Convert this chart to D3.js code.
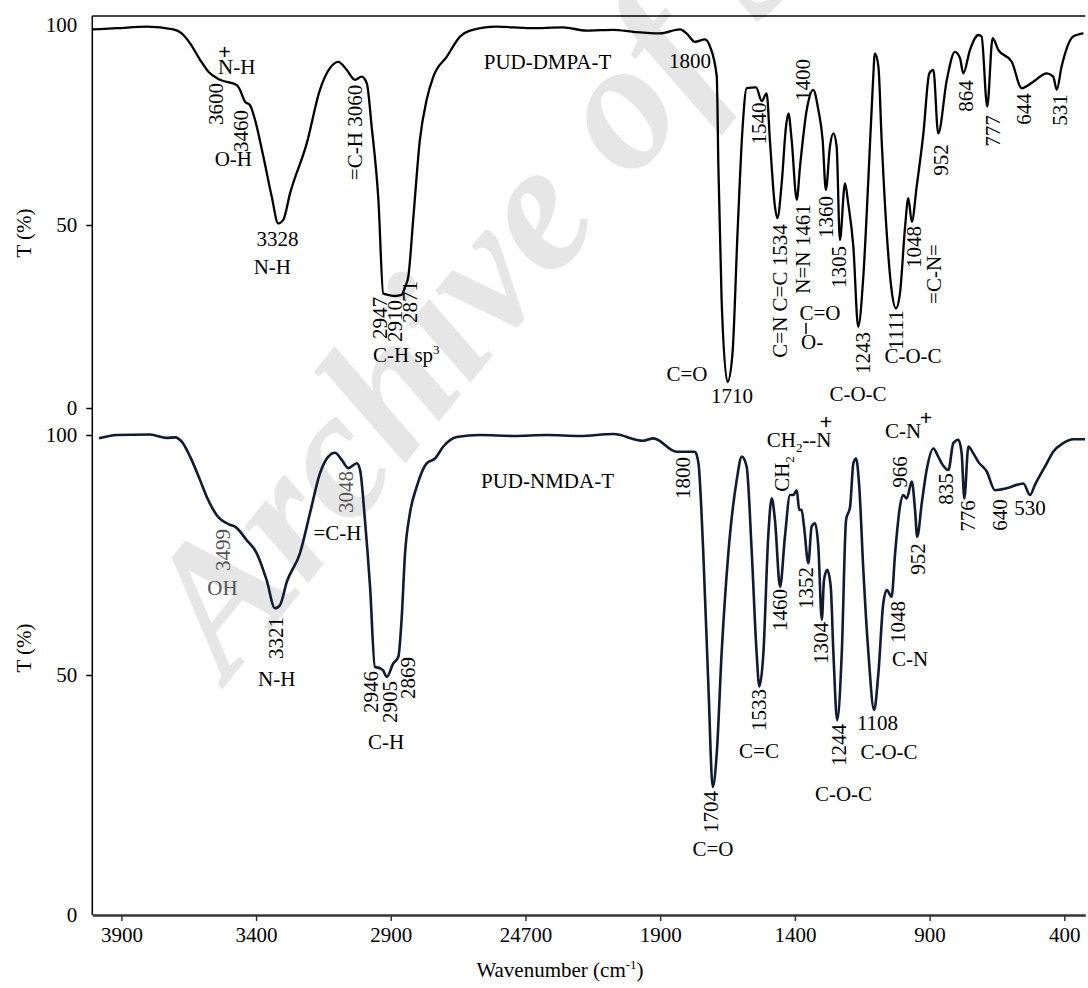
<!DOCTYPE html>
<html>
<head>
<meta charset="utf-8">
<script src="https://cdn.jsdelivr.net/npm/d3@7"></script>
<style>
  body { margin: 0; background: #fff; }
  svg text { font-family: "Liberation Serif", "Times New Roman", serif; }
</style>
</head>
<body>
<div id="chart"></div>
<script>
// x axis ticks (label "24700" is as printed in the figure)
const xTicks = [3900, 3400, 2900, 2400, 1900, 1400, 900, 400];
const xTickLabels = ['3900', '3400', '2900', '24700', '1900', '1400', '900', '400'];
const yTicks = [0, 50, 100];

// PUD-DMPA-T spectrum (wavenumber, transmittance %)
const topWave = [4008,3917,3806,3707,3676,3645,3608,3577,3534,3472,3460,3441,3423,3404,3373,3342,3318,3299,3274,3212,3163,3126,3095,3064,3033,3008,2989,2971,2946,2928,2909,2884,2860,2847,2835,2816,2792,2767,2742,2692,2643,2606,2507,2383,2260,2173,2074,2000,1901,1826,1802,1771,1734,1715,1690,1684,1672,1650,1632,1613,1594,1579,1544,1523,1505,1492,1474,1465,1449,1433,1424,1412,1393,1381,1356,1332,1313,1297,1285,1270,1257,1245,1233,1214,1202,1183,1165,1146,1128,1111,1103,1090,1078,1059,1041,1025,1010,991,979,966,948,923,901,886,868,836,806,787,775,750,719,707,686,666,645,595,558,515,465,441,428,410,367,329];
const topT = [98.9,99.2,99.6,98.9,97.9,95.4,91.3,88.3,86.3,85,83.8,80.8,80,76.3,67.1,57.1,50.4,51.3,57.9,70.4,83.8,89.2,90.8,88.8,86.3,87.1,85.4,74.6,56.3,31.3,30.9,30.6,30.9,33.1,35.9,52.1,71.3,81.3,87.1,92.1,97.1,98.6,99.6,99.2,99.4,98.6,98.8,98.3,97.9,98.9,97.9,95.8,96.4,94.6,87.1,64.6,29.5,7.1,14.5,47.7,74.5,84.2,84.4,81,82.9,70.4,54.6,51.7,60.4,74.6,77.9,71.3,56.3,64.6,78.8,83.8,78.8,71.3,58.8,69.6,72.9,69.6,45.9,60.4,55.4,44.1,22.2,35.9,60.4,84.6,92.9,89.6,71.3,47.7,32.2,27.2,31.3,49.5,56.7,50.8,59.6,72.9,87.9,88.8,72.9,86.3,93.3,91.7,87.9,93.8,97.5,97.1,79.6,96.7,93.8,90.8,84.2,85.8,87.9,87.1,83.8,89.6,97.1,97.9];

// PUD-NMDA-T spectrum
const botWave = [3983,3917,3794,3732,3701,3676,3645,3608,3583,3546,3497,3478,3435,3398,3361,3330,3311,3286,3237,3200,3163,3132,3107,3082,3058,3026,3014,2996,2977,2959,2940,2929,2915,2891,2872,2860,2847,2829,2804,2767,2736,2705,2655,2569,2445,2321,2198,2074,1963,1925,1839,1771,1758,1740,1721,1705,1690,1672,1647,1616,1597,1579,1560,1542,1532,1517,1499,1486,1474,1455,1437,1418,1406,1393,1384,1375,1366,1350,1338,1325,1313,1300,1292,1280,1267,1257,1243,1226,1210,1195,1183,1173,1161,1146,1127,1106,1090,1072,1059,1041,1028,1010,998,985,966,954,946,929,911,886,868,855,830,812,793,781,771,756,738,719,688,657,614,552,527,509,465,441,404,366,323];
const botT = [99.3,100,100.1,99.4,99.5,98.6,95.5,90.6,87.1,83.3,81.3,80.9,78.1,75.4,69.8,63.9,64.6,69.4,75.4,83.7,92,95.5,96.3,94.8,93.1,94.1,92.7,82.3,68.4,51.7,51.4,51,49.6,52.4,53.8,61.5,75.4,83.7,89.2,94.1,95.1,97.6,99.6,100,99.8,100,99.8,100.2,98.8,99.3,96.5,96.5,94.1,75.4,47.6,26.7,33.7,54.5,75.4,90.6,95.5,93.4,75.4,54.5,47.6,54.5,78.8,86.8,82.3,68.4,78.8,87.5,87.5,88.5,84.4,84.4,80.9,73.3,80.9,81.6,76.7,61.5,69.8,71.9,68.4,54.5,40.6,54.5,82.3,85.1,94.1,95.1,89.2,71.9,54.5,42.7,50.4,64.9,67.7,66.3,75.4,85.1,87.5,86.8,90.3,84.4,78.8,85.8,92.7,97.2,95.5,94.1,92.7,98.3,99,96.2,86.8,97.6,96.2,94.4,92.4,88.5,88.9,89.9,87.5,89.6,94.1,96.5,98.3,99.1,99.1];

// peak annotations (page layout: rotated ones are centred, flat ones use baseline)
const notes = [
  ['N-H', 236.7, 74, 0], ['3600', 215.8, 104, -90], ['3460', 240.8, 131, -90], ['O-H', 233.3, 166, 0],
  ['3328', 277.5, 246, 0], ['N-H', 272.3, 274, 0], ['=C-H 3060', 355, 132.5, -90],
  ['2947', 380, 318, -90], ['2910', 394.5, 321, -90], ['2871', 409.5, 302, -90],
  ['PUD-DMPA-T', 547.5, 69, 0], ['1800', 690, 68, 0], ['1540', 759, 123.5, -90],
  ['C=O', 687, 381, 0], ['1710', 732, 403, 0], ['C=N C=C 1534', 780, 291, -90],
  ['N=N 1461', 802.5, 249, -90], ['1400', 802.5, 80, -90], ['C=O', 820, 320, 0],
  ['1360', 826, 217, -90], ['1305', 839, 267, -90], ['1243', 862.5, 353, -90],
  ['C-O-C', 858, 401, 0], ['1111', 896, 330, -90], ['C-O-C', 913, 363, 0],
  ['1048', 914, 247, -90], ['=C-N=', 934, 274, -90], ['952', 941, 160, -90],
  ['864', 966, 96, -90], ['777', 992.5, 131, -90], ['644', 1024, 109, -90], ['531', 1060, 110, -90],
  ['3321', 276, 638, -90], ['N-H', 276.7, 686, 0], ['=C-H', 337.5, 540, 0],
  ['2946', 370.5, 692, -90], ['2905', 390, 702, -90], ['2869', 407.5, 678, -90], ['C-H', 386, 749, 0],
  ['PUD-NMDA-T', 547.5, 488, 0], ['1800', 682.5, 478, -90],
  ['1460', 780, 610, -90], ['1352', 806, 588, -90], ['1304', 821, 643, -90],
  ['1533', 759, 710, -90], ['C=C', 759, 758, 0], ['1244', 839, 745, -90],
  ['1108', 877.5, 730, 0], ['C-O-C', 889, 759, 0], ['C-O-C', 843.5, 801, 0],
  ['1704', 711, 812, -90], ['C=O', 713, 856, 0], ['1048', 897.5, 622, -90], ['C-N', 910, 666, 0],
  ['966', 900, 472, -90], ['952', 917.5, 559, -90], ['835', 946, 489, -90],
  ['776', 967.5, 516, -90], ['640', 999.5, 515, -90], ['530', 1030, 515, 0]
];
const greyNotes = [['3499', 222.5, 550, -90], ['OH', 222.5, 595, 0], ['3048', 346, 492, -90]];
const plusSigns = [[224.5, 59], [826, 429], [926, 425]];

const W = 1088, H = 988;
const svg = d3.select('#chart').append('svg').attr('width', W).attr('height', H);

const x = d3.scaleLinear().domain([4008, 322]).range([92.3, 1085.3]);
const yTop = d3.scaleLinear().domain([0, 50, 100]).range([408, 225, 25]);
const yBot = d3.scaleLinear().domain([0, 100]).range([915, 435]);

// watermark
svg.append('text')
  .attr('transform', 'translate(228,682) rotate(-51)')
  .attr('font-size', 185).attr('font-weight', 'bold').attr('font-style', 'italic')
  .attr('fill', '#e6e6e6')
  .text('Archive of SID');

// spectra
const line = (ys) => d3.line().x(d => x(d[0])).y(d => ys(d[1])).curve(d3.curveMonotoneX);
svg.append('path')
  .datum(d3.zip(topWave, topT))
  .attr('d', line(yTop))
  .attr('fill', 'none').attr('stroke', '#000').attr('stroke-width', 2.3).attr('stroke-linejoin', 'round');
svg.append('path')
  .datum(d3.zip(botWave, botT))
  .attr('d', line(yBot))
  .attr('fill', 'none').attr('stroke', '#111a33').attr('stroke-width', 2.6).attr('stroke-linejoin', 'round');

// frame: top line and left spine
svg.append('line').attr('x1', 92.3).attr('x2', 1085.3).attr('y1', 16).attr('y2', 16)
  .attr('stroke', '#000').attr('stroke-width', 1.5);
svg.append('line').attr('x1', 92.3).attr('x2', 92.3).attr('y1', 16).attr('y2', 915)
  .attr('stroke', '#000').attr('stroke-width', 1.5);

// y axes
function yAxis(scale, hide) {
  const g = svg.append('g').attr('transform', 'translate(92.3,0)')
    .call(d3.axisLeft(scale).tickValues(yTicks).tickSize(6).tickPadding(9).tickFormat(d3.format('d')));
  g.select('.domain').remove();
  g.selectAll('.tick line').attr('stroke', '#000').attr('stroke-width', 1.5)
    .filter(d => d === hide).remove();
  g.selectAll('.tick text').attr('font-size', 21).attr('fill', '#000')
    .attr('font-family', '"Liberation Serif", serif');
}
yAxis(yTop, 100);
yAxis(yBot, 0);

// x axis
const xg = svg.append('g').attr('transform', 'translate(0,915)')
  .call(d3.axisBottom(x).tickValues(xTicks).tickSize(6).tickSizeOuter(0).tickPadding(6)
    .tickFormat((d, i) => xTickLabels[i]));
xg.select('.domain').attr('stroke', '#333').attr('stroke-width', 2.5);
xg.selectAll('.tick line').attr('stroke', '#333').attr('stroke-width', 1.5);
xg.selectAll('.tick text').attr('font-size', 21).attr('fill', '#000')
  .attr('font-family', '"Liberation Serif", serif');

// axis titles
const xt = svg.append('text').attr('x', 560).attr('y', 977).attr('text-anchor', 'middle').attr('font-size', 21);
xt.append('tspan').text('Wavenumber (cm');
xt.append('tspan').attr('font-size', 13).attr('dy', -8).text('-1');
xt.append('tspan').attr('dy', 8).text(')');
[233, 648].forEach(cy => {
  svg.append('text').attr('transform', `translate(24,${cy}) rotate(-90)`)
    .attr('text-anchor', 'middle').attr('dy', '0.35em').attr('font-size', 21).text('T (%)');
});

// annotations
function note(d, fill) {
  const t = svg.append('text').attr('font-size', 21).attr('fill', fill).attr('text-anchor', 'middle');
  if (d[3]) t.attr('transform', `translate(${d[1]},${d[2]}) rotate(${d[3]})`).attr('dy', '0.35em');
  else t.attr('x', d[1]).attr('y', d[2]);
  t.text(d[0]);
}
notes.forEach(d => note(d, '#000'));
greyNotes.forEach(d => note(d, '#555'));
plusSigns.forEach(p => svg.append('text').attr('x', p[0]).attr('y', p[1])
  .attr('text-anchor', 'middle').attr('font-size', 22).attr('font-weight', 'bold').text('+'));

// C-H sp3
const sp = svg.append('text').attr('x', 373).attr('y', 362).attr('font-size', 21);
sp.append('tspan').text('C-H sp');
sp.append('tspan').attr('font-size', 13).attr('dy', -8).text('3');

// carboxylate O-C=O
svg.append('line').attr('x1', 806).attr('x2', 806).attr('y1', 323).attr('y2', 334)
  .attr('stroke', '#000').attr('stroke-width', 1.5);
svg.append('text').attr('x', 801).attr('y', 349).attr('font-size', 21).text('O-');

// CH2--N+ (horizontal) and CH2 (rotated)
const ch = svg.append('text').attr('x', 766.7).attr('y', 447).attr('font-size', 21);
ch.append('tspan').text('CH');
ch.append('tspan').attr('font-size', 13).attr('dy', 5).text('2');
ch.append('tspan').attr('dy', -5).text('--N');
const ch2 = svg.append('text').attr('transform', 'translate(781.7,474) rotate(-90)')
  .attr('text-anchor', 'middle').attr('dy', '0.35em').attr('font-size', 21);
ch2.append('tspan').text('CH');
ch2.append('tspan').attr('font-size', 13).attr('dy', 5).text('2');

// C-N+
svg.append('text').attr('x', 885).attr('y', 438).attr('font-size', 21).text('C-N');
</script>
</body>
</html>
